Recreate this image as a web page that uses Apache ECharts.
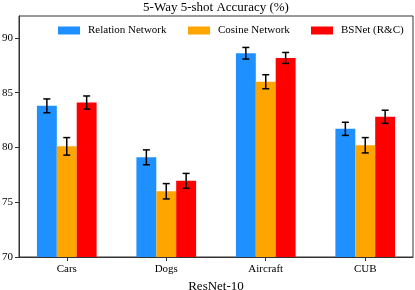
<!DOCTYPE html>
<html><head><meta charset="utf-8">
<script src="https://cdn.jsdelivr.net/npm/echarts@6/dist/echarts.min.js"></script>
<style>html,body{margin:0;padding:0;background:#fff}#c{width:415px;height:290px}</style>
</head><body><div id="c"></div>
<script>
const categories = ['Cars', 'Dogs', 'Aircraft', 'CUB'];
const seriesNames = ['Relation Network', 'Cosine Network', 'BSNet (R&C)'];
const relationVals = [83.8, 79.1, 88.6, 81.7];
const relationErr = [0.63, 0.68, 0.53, 0.6];
const cosineVals = [80.1, 76.0, 86.0, 80.2];
const cosineErr = [0.8, 0.7, 0.64, 0.7];
const bsnetVals = [84.1, 76.95, 88.17, 82.8];
const bsnetErr = [0.6, 0.68, 0.5, 0.6];
const yTicks = [70, 75, 80, 85, 90];
const colors = ['#1E90FF', '#FFA500', '#FF0000'];

const allVals = [relationVals, cosineVals, bsnetVals];
const allErr = [relationErr, cosineErr, bsnetErr];
const barW = 0.2;
const offsets = [-0.2, 0, 0.2];
const serif = 'Liberation Serif';

const series = [];
allVals.forEach((vals, s) => {
  series.push({
    type: 'custom', name: seriesNames[s],
    itemStyle: { color: colors[s] },
    data: vals.map((v, i) => [i, v]),
    renderItem: function (params, api) {
      const x = api.value(0) + offsets[s];
      const p1 = api.coord([x - barW / 2, api.value(1)]);
      const p2 = api.coord([x + barW / 2, 70]);
      return { type: 'rect', shape: { x: p1[0], y: p1[1], width: p2[0] - p1[0], height: p2[1] - p1[1] },
        style: { fill: colors[s] } };
    }
  });
});
allVals.forEach((vals, s) => {
  series.push({
    type: 'custom', z: 5, silent: true,
    data: vals.map((v, i) => [i, v, allErr[s][i]]),
    renderItem: function (params, api) {
      const x = api.value(0) + offsets[s];
      const v = api.value(1), e = api.value(2);
      const top = api.coord([x, v + e]);
      const bot = api.coord([x, v - e]);
      const cw = 3.5;
      const st = { stroke: '#000', lineWidth: 1.5 };
      return { type: 'group', children: [
        { type: 'line', shape: { x1: top[0], y1: top[1], x2: bot[0], y2: bot[1] }, style: st },
        { type: 'line', shape: { x1: top[0] - cw, y1: top[1], x2: top[0] + cw, y2: top[1] }, style: st },
        { type: 'line', shape: { x1: bot[0] - cw, y1: bot[1], x2: bot[0] + cw, y2: bot[1] }, style: st }
      ] };
    }
  });
});

const legendLefts = [58, 188, 311];
const legends = seriesNames.map((n, i) => ({
  data: [n], left: legendLefts[i], top: 25, padding: 0, icon: 'rect', itemWidth: 22, itemHeight: 8,
  textStyle: { fontFamily: serif, fontSize: 11, color: '#000', padding: [0, 0, 0, 3] },
  selectedMode: false
}));

const chart = echarts.init(document.getElementById('c'), null, { renderer: 'canvas' });
chart.setOption({
  animation: false,
  title: { text: '5-Way 5-shot Accuracy (%)', left: 216, textAlign: 'center', top: 1, padding: 0,
    textStyle: { fontFamily: serif, fontSize: 13, fontWeight: 'normal', color: '#000' } },
  legend: legends,
  grid: { left: 19, right: 2, top: 16, bottom: 33, show: true, borderColor: '#333', borderWidth: 1,
    outerBoundsMode: 'none', containLabel: false },
  xAxis: {
    type: 'value', min: -0.48, max: 3.48,
    name: 'ResNet-10', nameLocation: 'middle', nameGap: 19,
    nameTextStyle: { fontFamily: serif, fontSize: 13, color: '#000' },
    axisLine: { show: true, onZero: false, lineStyle: { color: '#333' } },
    axisTick: { show: true, length: 4, customValues: [0, 1, 2, 3], lineStyle: { color: '#333' } },
    axisLabel: { customValues: [0, 1, 2, 3], formatter: v => categories[Math.round(v)], margin: 7,
      fontFamily: serif, fontSize: 11, color: '#000' },
    splitLine: { show: false }
  },
  yAxis: {
    type: 'value', min: 70, max: 92,
    axisLine: { show: true, onZero: false, lineStyle: { color: '#333' } },
    axisTick: { show: true, length: 4, customValues: yTicks, lineStyle: { color: '#333' } },
    axisLabel: { customValues: yTicks, margin: 6, fontFamily: serif, fontSize: 11, color: '#000' },
    splitLine: { show: false }
  },
  series: series
});
</script></body></html>
